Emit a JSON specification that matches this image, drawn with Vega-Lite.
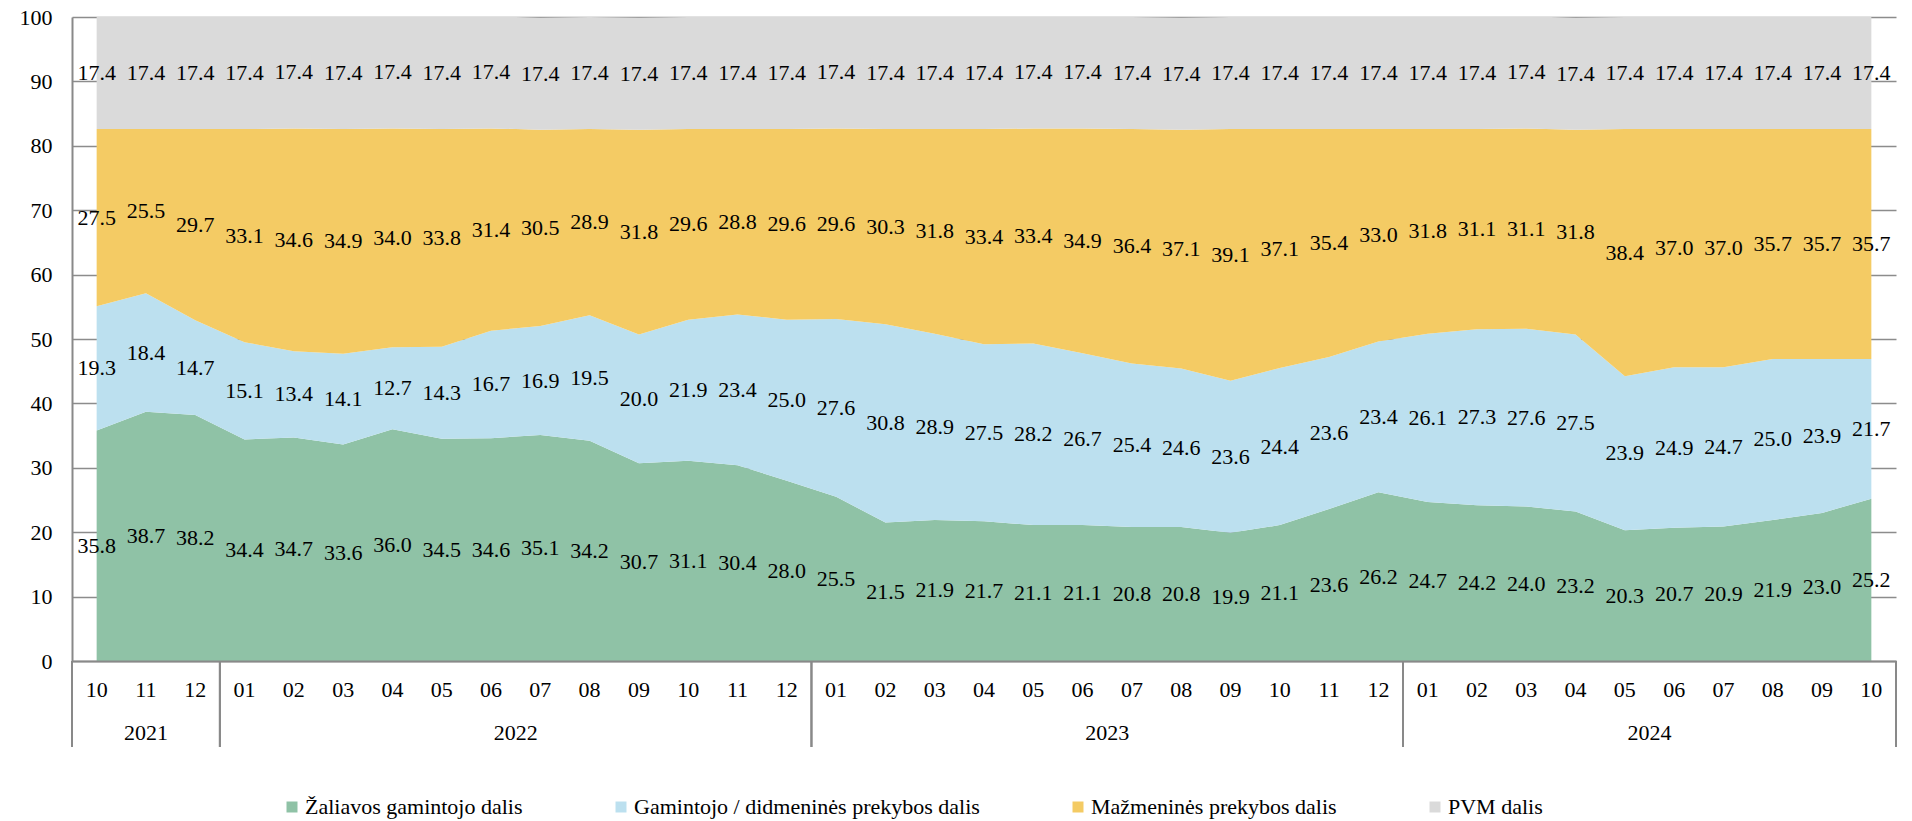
{
  "$schema": "https://vega.github.io/schema/vega-lite/v6.json",
  "width": 1824,
  "height": 644,
  "autosize": "none",
  "padding": {"left": 72, "top": 17, "right": 16, "bottom": 160},
  "background": "white",
  "config": {"view": {"stroke": null}, "font": "Liberation Serif"},
  "data": {"values": [
    {"ym":"2021-10","year":"2021","month":"10","Žaliavos gamintojo dalis":35.8,"Gamintojo / didmeninės prekybos dalis":19.3,"Mažmeninės prekybos dalis":27.5,"PVM dalis":17.4},
    {"ym":"2021-11","year":"2021","month":"11","Žaliavos gamintojo dalis":38.7,"Gamintojo / didmeninės prekybos dalis":18.4,"Mažmeninės prekybos dalis":25.5,"PVM dalis":17.4},
    {"ym":"2021-12","year":"2021","month":"12","Žaliavos gamintojo dalis":38.2,"Gamintojo / didmeninės prekybos dalis":14.7,"Mažmeninės prekybos dalis":29.7,"PVM dalis":17.4},
    {"ym":"2022-01","year":"2022","month":"01","Žaliavos gamintojo dalis":34.4,"Gamintojo / didmeninės prekybos dalis":15.1,"Mažmeninės prekybos dalis":33.1,"PVM dalis":17.4},
    {"ym":"2022-02","year":"2022","month":"02","Žaliavos gamintojo dalis":34.7,"Gamintojo / didmeninės prekybos dalis":13.4,"Mažmeninės prekybos dalis":34.6,"PVM dalis":17.4},
    {"ym":"2022-03","year":"2022","month":"03","Žaliavos gamintojo dalis":33.6,"Gamintojo / didmeninės prekybos dalis":14.1,"Mažmeninės prekybos dalis":34.9,"PVM dalis":17.4},
    {"ym":"2022-04","year":"2022","month":"04","Žaliavos gamintojo dalis":36.0,"Gamintojo / didmeninės prekybos dalis":12.7,"Mažmeninės prekybos dalis":34.0,"PVM dalis":17.4},
    {"ym":"2022-05","year":"2022","month":"05","Žaliavos gamintojo dalis":34.5,"Gamintojo / didmeninės prekybos dalis":14.3,"Mažmeninės prekybos dalis":33.8,"PVM dalis":17.4},
    {"ym":"2022-06","year":"2022","month":"06","Žaliavos gamintojo dalis":34.6,"Gamintojo / didmeninės prekybos dalis":16.7,"Mažmeninės prekybos dalis":31.4,"PVM dalis":17.4},
    {"ym":"2022-07","year":"2022","month":"07","Žaliavos gamintojo dalis":35.1,"Gamintojo / didmeninės prekybos dalis":16.9,"Mažmeninės prekybos dalis":30.5,"PVM dalis":17.4},
    {"ym":"2022-08","year":"2022","month":"08","Žaliavos gamintojo dalis":34.2,"Gamintojo / didmeninės prekybos dalis":19.5,"Mažmeninės prekybos dalis":28.9,"PVM dalis":17.4},
    {"ym":"2022-09","year":"2022","month":"09","Žaliavos gamintojo dalis":30.7,"Gamintojo / didmeninės prekybos dalis":20.0,"Mažmeninės prekybos dalis":31.8,"PVM dalis":17.4},
    {"ym":"2022-10","year":"2022","month":"10","Žaliavos gamintojo dalis":31.1,"Gamintojo / didmeninės prekybos dalis":21.9,"Mažmeninės prekybos dalis":29.6,"PVM dalis":17.4},
    {"ym":"2022-11","year":"2022","month":"11","Žaliavos gamintojo dalis":30.4,"Gamintojo / didmeninės prekybos dalis":23.4,"Mažmeninės prekybos dalis":28.8,"PVM dalis":17.4},
    {"ym":"2022-12","year":"2022","month":"12","Žaliavos gamintojo dalis":28.0,"Gamintojo / didmeninės prekybos dalis":25.0,"Mažmeninės prekybos dalis":29.6,"PVM dalis":17.4},
    {"ym":"2023-01","year":"2023","month":"01","Žaliavos gamintojo dalis":25.5,"Gamintojo / didmeninės prekybos dalis":27.6,"Mažmeninės prekybos dalis":29.6,"PVM dalis":17.4},
    {"ym":"2023-02","year":"2023","month":"02","Žaliavos gamintojo dalis":21.5,"Gamintojo / didmeninės prekybos dalis":30.8,"Mažmeninės prekybos dalis":30.3,"PVM dalis":17.4},
    {"ym":"2023-03","year":"2023","month":"03","Žaliavos gamintojo dalis":21.9,"Gamintojo / didmeninės prekybos dalis":28.9,"Mažmeninės prekybos dalis":31.8,"PVM dalis":17.4},
    {"ym":"2023-04","year":"2023","month":"04","Žaliavos gamintojo dalis":21.7,"Gamintojo / didmeninės prekybos dalis":27.5,"Mažmeninės prekybos dalis":33.4,"PVM dalis":17.4},
    {"ym":"2023-05","year":"2023","month":"05","Žaliavos gamintojo dalis":21.1,"Gamintojo / didmeninės prekybos dalis":28.2,"Mažmeninės prekybos dalis":33.4,"PVM dalis":17.4},
    {"ym":"2023-06","year":"2023","month":"06","Žaliavos gamintojo dalis":21.1,"Gamintojo / didmeninės prekybos dalis":26.7,"Mažmeninės prekybos dalis":34.9,"PVM dalis":17.4},
    {"ym":"2023-07","year":"2023","month":"07","Žaliavos gamintojo dalis":20.8,"Gamintojo / didmeninės prekybos dalis":25.4,"Mažmeninės prekybos dalis":36.4,"PVM dalis":17.4},
    {"ym":"2023-08","year":"2023","month":"08","Žaliavos gamintojo dalis":20.8,"Gamintojo / didmeninės prekybos dalis":24.6,"Mažmeninės prekybos dalis":37.1,"PVM dalis":17.4},
    {"ym":"2023-09","year":"2023","month":"09","Žaliavos gamintojo dalis":19.9,"Gamintojo / didmeninės prekybos dalis":23.6,"Mažmeninės prekybos dalis":39.1,"PVM dalis":17.4},
    {"ym":"2023-10","year":"2023","month":"10","Žaliavos gamintojo dalis":21.1,"Gamintojo / didmeninės prekybos dalis":24.4,"Mažmeninės prekybos dalis":37.1,"PVM dalis":17.4},
    {"ym":"2023-11","year":"2023","month":"11","Žaliavos gamintojo dalis":23.6,"Gamintojo / didmeninės prekybos dalis":23.6,"Mažmeninės prekybos dalis":35.4,"PVM dalis":17.4},
    {"ym":"2023-12","year":"2023","month":"12","Žaliavos gamintojo dalis":26.2,"Gamintojo / didmeninės prekybos dalis":23.4,"Mažmeninės prekybos dalis":33.0,"PVM dalis":17.4},
    {"ym":"2024-01","year":"2024","month":"01","Žaliavos gamintojo dalis":24.7,"Gamintojo / didmeninės prekybos dalis":26.1,"Mažmeninės prekybos dalis":31.8,"PVM dalis":17.4},
    {"ym":"2024-02","year":"2024","month":"02","Žaliavos gamintojo dalis":24.2,"Gamintojo / didmeninės prekybos dalis":27.3,"Mažmeninės prekybos dalis":31.1,"PVM dalis":17.4},
    {"ym":"2024-03","year":"2024","month":"03","Žaliavos gamintojo dalis":24.0,"Gamintojo / didmeninės prekybos dalis":27.6,"Mažmeninės prekybos dalis":31.1,"PVM dalis":17.4},
    {"ym":"2024-04","year":"2024","month":"04","Žaliavos gamintojo dalis":23.2,"Gamintojo / didmeninės prekybos dalis":27.5,"Mažmeninės prekybos dalis":31.8,"PVM dalis":17.4},
    {"ym":"2024-05","year":"2024","month":"05","Žaliavos gamintojo dalis":20.3,"Gamintojo / didmeninės prekybos dalis":23.9,"Mažmeninės prekybos dalis":38.4,"PVM dalis":17.4},
    {"ym":"2024-06","year":"2024","month":"06","Žaliavos gamintojo dalis":20.7,"Gamintojo / didmeninės prekybos dalis":24.9,"Mažmeninės prekybos dalis":37.0,"PVM dalis":17.4},
    {"ym":"2024-07","year":"2024","month":"07","Žaliavos gamintojo dalis":20.9,"Gamintojo / didmeninės prekybos dalis":24.7,"Mažmeninės prekybos dalis":37.0,"PVM dalis":17.4},
    {"ym":"2024-08","year":"2024","month":"08","Žaliavos gamintojo dalis":21.9,"Gamintojo / didmeninės prekybos dalis":25.0,"Mažmeninės prekybos dalis":35.7,"PVM dalis":17.4},
    {"ym":"2024-09","year":"2024","month":"09","Žaliavos gamintojo dalis":23.0,"Gamintojo / didmeninės prekybos dalis":23.9,"Mažmeninės prekybos dalis":35.7,"PVM dalis":17.4},
    {"ym":"2024-10","year":"2024","month":"10","Žaliavos gamintojo dalis":25.2,"Gamintojo / didmeninės prekybos dalis":21.7,"Mažmeninės prekybos dalis":35.7,"PVM dalis":17.4}
  ]},
  "transform": [
    {"window": [{"op": "row_number", "as": "rn"}]},
    {"calculate": "datum.rn - 1", "as": "i"}
  ],
  "layer": [
    {
      "transform": [
        {"fold": ["Žaliavos gamintojo dalis", "Gamintojo / didmeninės prekybos dalis", "Mažmeninės prekybos dalis", "PVM dalis"], "as": ["series", "value"]},
        {"calculate": "indexof(['Žaliavos gamintojo dalis', 'Gamintojo / didmeninės prekybos dalis', 'Mažmeninės prekybos dalis', 'PVM dalis'], datum.series)", "as": "ord"},
        {"stack": "value", "groupby": ["i"], "sort": [{"field": "ord", "order": "ascending"}], "as": ["v0", "v1"]},
        {"calculate": "(datum.v0 + datum.v1) / 2", "as": "mid"}
      ],
      "layer": [
        {
          "mark": {"type": "area", "opacity": 1, "interpolate": "linear", "clip": true},
          "encoding": {
            "x": {"field": "i", "type": "quantitative", "scale": {"domain": [-0.5, 36.5], "nice": false, "zero": false},
                  "axis": {"labels": false, "ticks": false, "grid": false, "title": null, "domainColor": "#898989", "domainWidth": 2, "zindex": 1}},
            "y": {"field": "v1", "type": "quantitative", "stack": null, "scale": {"domain": [0, 100], "nice": false},
                  "axis": {"values": [0, 10, 20, 30, 40, 50, 60, 70, 80, 90, 100], "title": null, "ticks": false, "labelPadding": 20, "labelFontSize": 22, "labelFont": "Liberation Serif", "labelColor": "#000000", "domainColor": "#898989", "domainWidth": 2, "gridColor": "#8c8c8c", "gridWidth": 1.5}},
            "y2": {"field": "v0"},
            "color": {"field": "series", "type": "nominal",
                      "scale": {"domain": ["Žaliavos gamintojo dalis", "Gamintojo / didmeninės prekybos dalis", "Mažmeninės prekybos dalis", "PVM dalis"], "range": ["#8fc2a6", "#bce0ef", "#f4cb64", "#dadada"]},
                      "legend": {"orient": "none", "legendX": 209, "legendY": 779, "direction": "horizontal", "title": null, "symbolType": "square", "symbolSize": 121, "symbolStrokeWidth": 0, "symbolOpacity": 1, "labelFontSize": 22, "labelFont": "Liberation Serif", "labelColor": "#000000", "labelOffset": 2, "columnPadding": 87, "labelLimit": 0, "padding": 0}},
            "order": {"field": "ord", "type": "quantitative"}
          }
        },
        {
          "mark": {"type": "text", "font": "Liberation Serif", "fontSize": 22, "color": "#000000", "align": "center", "baseline": "middle"},
          "encoding": {
            "x": {"field": "i", "type": "quantitative", "scale": {"domain": [-0.5, 36.5], "nice": false, "zero": false}},
            "y": {"field": "mid", "type": "quantitative", "scale": {"domain": [0, 100], "nice": false}},
            "text": {"field": "value", "type": "quantitative", "format": ".1f"}
          }
        }
      ]
    },
    {
      "mark": {"type": "text", "font": "Liberation Serif", "fontSize": 22, "color": "#000000", "align": "center", "baseline": "middle", "dy": 29},
      "encoding": {
        "x": {"field": "i", "type": "quantitative", "scale": {"domain": [-0.5, 36.5], "nice": false, "zero": false}},
        "y": {"value": "height"},
        "text": {"field": "month", "type": "nominal"}
      }
    },
    {
      "transform": [
        {"aggregate": [{"op": "mean", "field": "i", "as": "ci"}, {"op": "min", "field": "i", "as": "a"}, {"op": "max", "field": "i", "as": "b"}], "groupby": ["year"]},
        {"calculate": "datum.a - 0.5", "as": "lo"},
        {"calculate": "datum.b + 0.5", "as": "hi"}
      ],
      "layer": [
        {
          "mark": {"type": "text", "font": "Liberation Serif", "fontSize": 22, "color": "#000000", "align": "center", "baseline": "middle", "dy": 72},
          "encoding": {
            "x": {"field": "ci", "type": "quantitative", "scale": {"domain": [-0.5, 36.5], "nice": false, "zero": false}},
            "y": {"value": "height"},
            "text": {"field": "year", "type": "nominal"}
          }
        },
        {
          "mark": {"type": "rule", "color": "#898989", "strokeWidth": 2},
          "encoding": {
            "x": {"field": "lo", "type": "quantitative", "scale": {"domain": [-0.5, 36.5], "nice": false, "zero": false}},
            "y": {"value": "height"},
            "y2": {"value": {"expr": "height + 86"}}
          }
        },
        {
          "mark": {"type": "rule", "color": "#898989", "strokeWidth": 2},
          "encoding": {
            "x": {"field": "hi", "type": "quantitative", "scale": {"domain": [-0.5, 36.5], "nice": false, "zero": false}},
            "y": {"value": "height"},
            "y2": {"value": {"expr": "height + 86"}}
          }
        }
      ]
    }
  ]
}
